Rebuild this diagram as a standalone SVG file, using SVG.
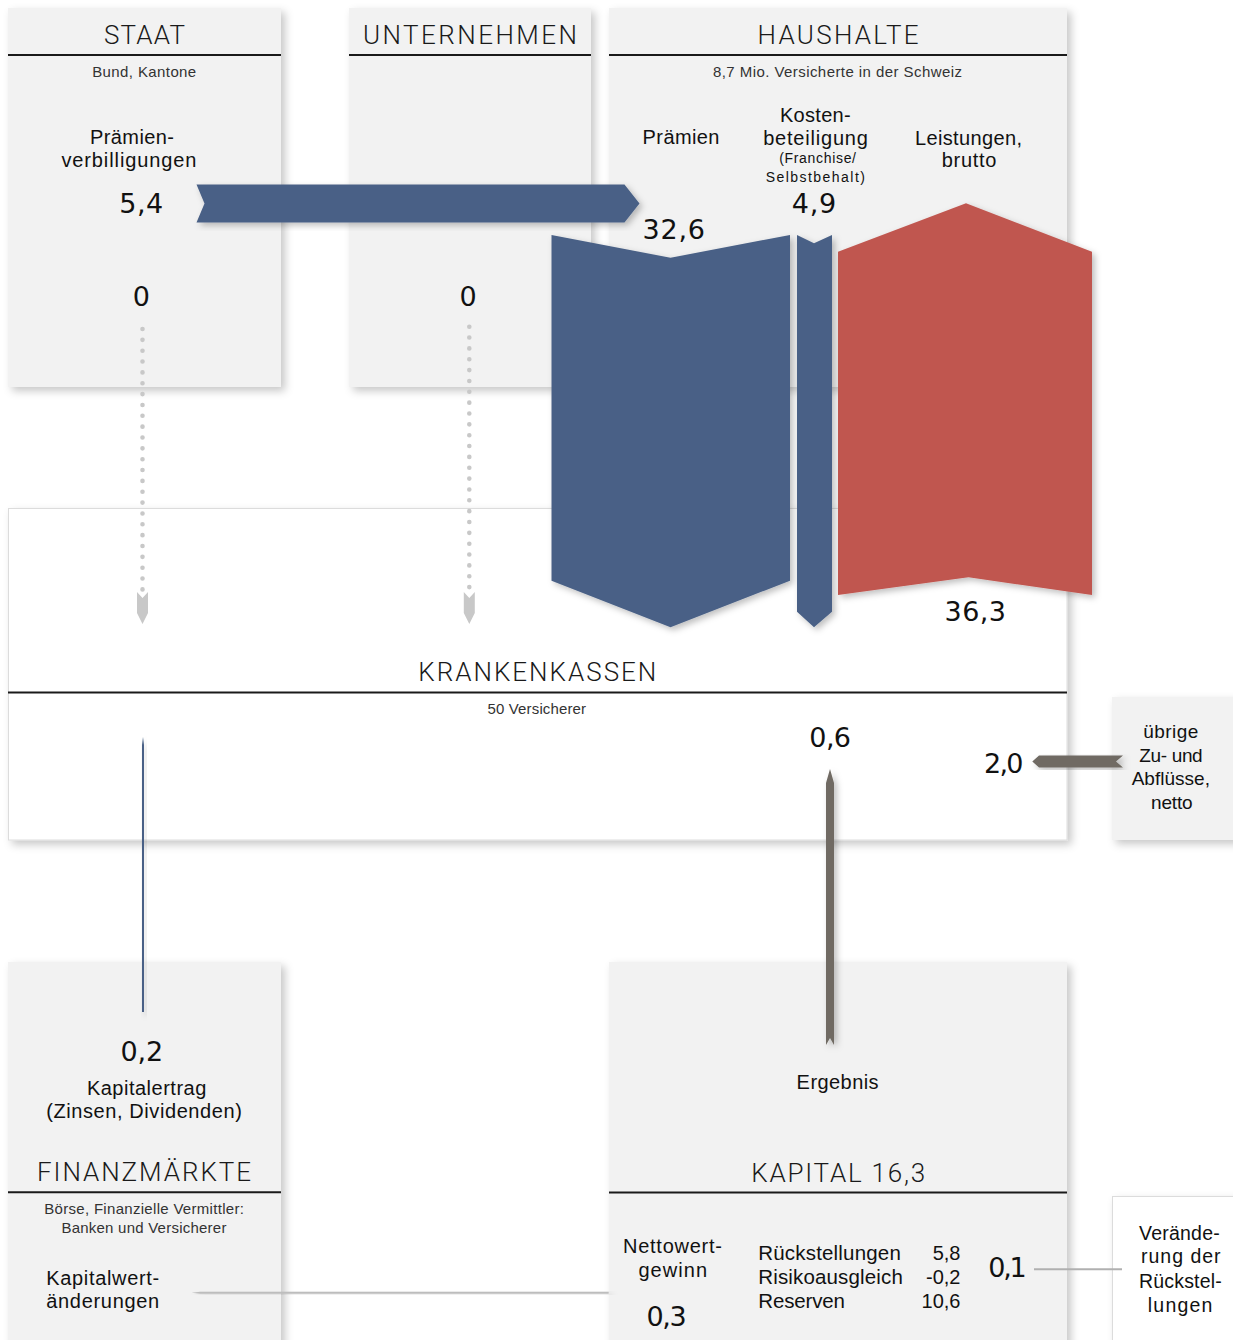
<svg xmlns="http://www.w3.org/2000/svg" width="1233" height="1340" viewBox="0 0 1233 1340">
<defs>
<filter id="sh" x="-10%" y="-10%" width="130%" height="130%">
<feDropShadow dx="4" dy="4" stdDeviation="4" flood-color="#000" flood-opacity="0.22"/>
</filter>
<filter id="sh2" x="-50%" y="-10%" width="300%" height="130%">
<feDropShadow dx="3" dy="3" stdDeviation="3" flood-color="#000" flood-opacity="0.25"/>
</filter>
<style>
.box{fill:#f2f2f2;filter:url(#sh)}
.wbox{fill:#ffffff;stroke:#dcdcdc;stroke-width:1;filter:url(#sh)}
.rule{stroke:#1a1a1a;stroke-width:2}
.hdr{font-family:Roboto,"Liberation Sans",sans-serif;font-weight:300;font-size:26px;fill:#1a1a1a;text-anchor:middle}
.sub{font-family:"Liberation Sans",Arial,sans-serif;font-size:15px;fill:#333;text-anchor:middle}
.lbl{font-family:"Liberation Sans",Arial,sans-serif;font-size:20px;fill:#111;text-anchor:middle}
.s19{font-size:19px}
.s195{font-size:19.5px}
.s205{font-size:20.5px}
.sm{font-size:14px}
.num{font-family:"DejaVu Sans","Liberation Sans",sans-serif;font-size:27px;fill:#111;text-anchor:middle}
.st{text-anchor:start}
.en{text-anchor:end}
.blue{fill:#4a6186;filter:url(#sh2)}
.red{fill:#c05750;filter:url(#sh2)}
.grey{fill:#6f6b63;filter:url(#sh2)}
.dots{stroke:#c8c8c8;stroke-width:4.6;stroke-linecap:round;stroke-dasharray:0 10.85;fill:none}
.dhead{fill:#c8c8c8}
</style>
</defs>
<rect width="1233" height="1340" fill="#ffffff"/>

<g id="staat">
<rect class="box" x="8" y="8" width="273" height="379"/>
<line class="rule" x1="8" y1="55" x2="281" y2="55"/>
<text class="hdr" x="144.5" y="43.5" textLength="81" lengthAdjust="spacing">STAAT</text>
<text class="sub" x="144.2" y="77.3" textLength="104" lengthAdjust="spacing">Bund, Kantone</text>
<text class="lbl" x="132" y="144" textLength="84" lengthAdjust="spacing">Prämien-</text>
<text class="lbl" x="128.9" y="166.5" textLength="135" lengthAdjust="spacing">verbilligungen</text>
<text class="num" x="141.3" y="213.3" textLength="44" lengthAdjust="spacing">5,4</text>
<text class="num" x="141.3" y="305.7">0</text>
</g>

<g id="unternehmen">
<rect class="box" x="349" y="8" width="242" height="379"/>
<line class="rule" x1="349" y1="55" x2="591" y2="55"/>
<text class="hdr" x="470" y="43.5" textLength="214" lengthAdjust="spacing">UNTERNEHMEN</text>
<text class="num" x="468" y="305.7">0</text>
</g>

<g id="haushalte">
<rect class="box" x="609" y="8" width="458" height="379"/>
<line class="rule" x1="609" y1="55" x2="1067" y2="55"/>
<text class="hdr" x="838" y="43.5" textLength="161" lengthAdjust="spacing">HAUSHALTE</text>
<text class="sub" x="837.5" y="77" textLength="249" lengthAdjust="spacing">8,7 Mio. Versicherte in der Schweiz</text>
<text class="lbl" x="681" y="144" textLength="76.8" lengthAdjust="spacing">Prämien</text>
<text class="lbl" x="815.3" y="121.7" textLength="70.7" lengthAdjust="spacing">Kosten-</text>
<text class="lbl" x="815.5" y="145" textLength="104.7" lengthAdjust="spacing">beteiligung</text>
<text class="lbl sm" x="817.6" y="162.7" textLength="76.8" lengthAdjust="spacing">(Franchise/</text>
<text class="lbl sm" x="815.3" y="181.7" textLength="99.3" lengthAdjust="spacing">Selbstbehalt)</text>
<text class="lbl" x="968.5" y="145" textLength="107" lengthAdjust="spacing">Leistungen,</text>
<text class="lbl" x="969.1" y="167.3" textLength="54.6" lengthAdjust="spacing">brutto</text>
<text class="num" x="814" y="213.3" textLength="44.6" lengthAdjust="spacing">4,9</text>
<text class="num" x="673.7" y="239.3" textLength="62.5" lengthAdjust="spacing">32,6</text>
</g>

<g id="krankenkassen">
<rect class="wbox" x="8.5" y="508.5" width="1058.5" height="331.5"/>
<line class="rule" x1="8" y1="692.5" x2="1067" y2="692.5"/>
<text class="hdr" x="537.3" y="681" textLength="238" lengthAdjust="spacing">KRANKENKASSEN</text>
<text class="sub" x="536.8" y="714.3" textLength="98.6" lengthAdjust="spacing">50 Versicherer</text>
<text class="num" x="975.3" y="621" textLength="61.4" lengthAdjust="spacing">36,3</text>
<text class="num" x="830.2" y="746.7" textLength="41.7" lengthAdjust="spacing">0,6</text>
<text class="num" x="1003.7" y="773.3" textLength="39.3" lengthAdjust="spacing">2,0</text>
</g>

<g id="uebrige">
<rect class="box" x="1112" y="697" width="130" height="143"/>
<text class="lbl s19" x="1170.8" y="738.3" textLength="55" lengthAdjust="spacing">übrige</text>
<text class="lbl s19" x="1171" y="762.3" textLength="63.4" lengthAdjust="spacing">Zu- und</text>
<text class="lbl s19" x="1170.8" y="785" textLength="78.3" lengthAdjust="spacing">Abflüsse,</text>
<text class="lbl s19" x="1171.8" y="809.3" textLength="41.7" lengthAdjust="spacing">netto</text>
</g>

<g id="finanzmaerkte">
<rect class="box" x="8" y="962" width="273" height="390"/>
<line class="rule" x1="8" y1="1192.3" x2="281" y2="1192.3"/>
<text class="num" x="141.9" y="1060.7" textLength="42.7" lengthAdjust="spacing">0,2</text>
<text class="lbl" x="146.6" y="1095" textLength="119.4" lengthAdjust="spacing">Kapitalertrag</text>
<text class="lbl" x="144" y="1118.3" textLength="195.7" lengthAdjust="spacing">(Zinsen, Dividenden)</text>
<text class="hdr" x="144" y="1181" textLength="214" lengthAdjust="spacing">FINANZMÄRKTE</text>
<text class="sub" x="144.1" y="1214" textLength="199.6" lengthAdjust="spacing">Börse, Finanzielle Vermittler:</text>
<text class="sub" x="143.9" y="1232.7" textLength="165" lengthAdjust="spacing">Banken und Versicherer</text>
<text class="lbl st" x="46.2" y="1285" textLength="113" lengthAdjust="spacing">Kapitalwert-</text>
<text class="lbl st" x="46.2" y="1308.3" textLength="113" lengthAdjust="spacing">änderungen</text>
</g>

<g id="kapital">
<rect class="box" x="609" y="962" width="458" height="390"/>
<line class="rule" x1="609" y1="1192.5" x2="1067" y2="1192.5"/>
<text class="lbl" x="837.6" y="1089" textLength="82" lengthAdjust="spacing">Ergebnis</text>
<text class="hdr" x="838.2" y="1182" textLength="174" lengthAdjust="spacing">KAPITAL 16,3</text>
<text class="lbl" x="672.5" y="1252.7" textLength="99" lengthAdjust="spacing">Nettowert-</text>
<text class="lbl" x="672.7" y="1276.7" textLength="68.6" lengthAdjust="spacing">gewinn</text>
<text class="num" x="666.6" y="1326" textLength="40.4" lengthAdjust="spacing">0,3</text>
<text class="lbl st s205" x="758.3" y="1260" textLength="142.5" lengthAdjust="spacing">Rückstellungen</text>
<text class="lbl st s205" x="758.3" y="1284.3" textLength="144.5" lengthAdjust="spacing">Risikoausgleich</text>
<text class="lbl st s205" x="758.3" y="1307.7" textLength="86.7" lengthAdjust="spacing">Reserven</text>
<text class="lbl en" x="960.5" y="1260">5,8</text>
<text class="lbl en" x="960.5" y="1284.3">-0,2</text>
<text class="lbl en" x="960.5" y="1307.7">10,6</text>
<text class="num" x="1007.5" y="1277.3" textLength="38.3" lengthAdjust="spacing">0,1</text>
</g>

<g id="veraenderung">
<rect class="wbox" x="1112.5" y="1196.5" width="130" height="150"/>
<text class="lbl s195" x="1179.4" y="1240" textLength="80.7" lengthAdjust="spacing">Verände-</text>
<text class="lbl s195" x="1180.8" y="1263.3" textLength="79.5" lengthAdjust="spacing">rung der</text>
<text class="lbl s195" x="1180.4" y="1288.3" textLength="82.7" lengthAdjust="spacing">Rückstel-</text>
<text class="lbl s195" x="1180.1" y="1311.7" textLength="64.6" lengthAdjust="spacing">lungen</text>
</g>

<g id="connectors">
<polygon class="blue" points="196.5,184.5 624.5,184.5 639.5,203.5 624.5,222.5 196.5,222.5 204.5,203.5"/>
<polygon class="blue" points="551.5,235 670.5,257.7 790,235 790,580.7 670.5,627.3 551.5,580.7"/>
<polygon class="blue" points="797,235 814,243.3 832,235 832,611.7 814,627.3 797,611.7"/>
<polygon class="red" points="838,251.7 966,203.3 1092,251.7 1092,595 968.5,577.3 838,595"/>
<line class="dots" x1="142.5" y1="329" x2="142.5" y2="590"/>
<polygon class="dhead" points="137,592 142.5,598 148,592 148,613 142.5,624 137,613"/>
<line class="dots" x1="469.3" y1="326.7" x2="469.3" y2="588"/>
<polygon class="dhead" points="463.8,592 469.3,598 474.8,592 474.8,613 469.3,624 463.8,613"/>
<polygon class="blue" points="142,1012 142,745 143,737 144,745 144,1012"/>
<polygon class="grey" points="826,1045 826,783 830,769 834,783 834,1045 830,1038"/>
<polygon class="grey" points="1032.3,761.5 1039,755.5 1123,755.5 1116,761.5 1123,767.5 1039,767.5"/>
<polygon fill="#bdbdbd" filter="url(#sh2)" points="191.7,1292.7 200,1291.7 608.7,1291.7 608.7,1293.7 200,1293.7"/>
<line x1="1034" y1="1269.3" x2="1122" y2="1269.3" stroke="#b0b0b0" stroke-width="2"/>
</g>
</svg>
